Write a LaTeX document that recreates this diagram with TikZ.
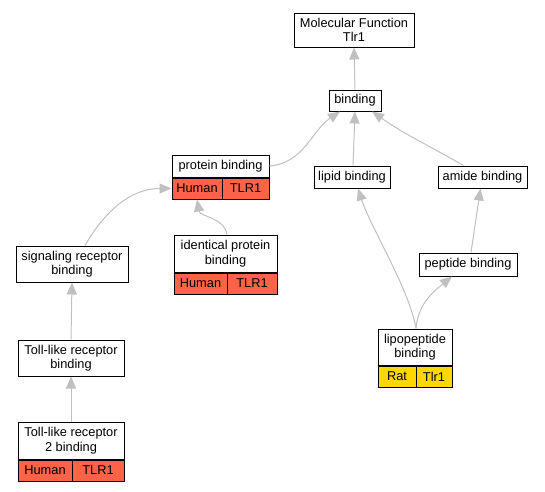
\documentclass[tikz,border=0pt]{standalone}
\usepackage{fontspec}
\setmainfont{Liberation Sans}
\usepackage{tikz}
\usetikzlibrary{arrows.meta, positioning}

\definecolor{human}{HTML}{FF6347}
\definecolor{rat}{HTML}{FFD700}
\definecolor{edgegray}{HTML}{C0C0C0}

\begin{document}
\begin{tikzpicture}[
    x=1pt, y=-1pt,
    term/.style={rectangle, draw, line width=1pt, fill=white, align=center, inner sep=1pt, font=\fontsize{12.8}{14.5}\selectfont},
    cell/.style={rectangle, draw, line width=1pt, inner sep=1pt, minimum height=21, font=\fontsize{12.8}{14.5}\selectfont},
    isa/.style={-{Triangle[length=12pt, width=10pt]}, draw=edgegray, line width=1pt},
]
\useasboundingbox (0,0) rectangle (545,491);

% GO terms
\node[term, minimum width=120, minimum height=34] (mf) at (354,30) {Molecular Function\\Tlr1};
\node[term, minimum width=52, minimum height=21] (bind) at (355,100.5) {binding};
\node[term, minimum width=97, minimum height=22] (pb) at (220.5,166) {protein binding};
\node[term, minimum width=76, minimum height=22] (lipid) at (352,177) {lipid binding};
\node[term, minimum width=89, minimum height=22] (amide) at (482.5,177) {amide binding};
\node[term, minimum width=112, minimum height=36] (sig) at (72,264) {signaling receptor\\binding};
\node[term, minimum width=103, minimum height=37] (iden) at (225.5,253.5) {identical protein\\binding};
\node[term, minimum width=106, minimum height=36] (toll) at (71,358) {Toll-like receptor\\binding};
\node[term, minimum width=106, minimum height=37] (tlr2) at (71,440.5) {Toll-like receptor\\2 binding};
\node[term, minimum width=98, minimum height=23] (pep) at (468,264.5) {peptide binding};
\node[term, minimum width=74, minimum height=36] (lipo) at (415,347) {lipopeptide\\binding};

% species / gene rows
\node[cell, fill=human, minimum width=50, anchor=north west] (pbh) at (pb.south west) {Human};
\node[cell, fill=human, minimum width=47, anchor=north east] (pbg) at (pb.south east) {TLR1};
\node[cell, fill=human, minimum width=53, anchor=north west] (idenh) at (iden.south west) {Human};
\node[cell, fill=human, minimum width=50, anchor=north east] (ideng) at (iden.south east) {TLR1};
\node[cell, fill=human, minimum width=54, anchor=north west] (tlr2h) at (tlr2.south west) {Human};
\node[cell, fill=human, minimum width=52, anchor=north east] (tlr2g) at (tlr2.south east) {TLR1};
\node[cell, fill=rat, minimum width=38, anchor=north west] (lipor) at (lipo.south west) {Rat};
\node[cell, fill=rat, minimum width=36, anchor=north east] (lipog) at (lipo.south east) {Tlr1};

% is_a links
\draw[isa] (bind.north) -- (mf.south);
\draw[isa] (pb.east) to[out=5, in=214] ([xshift=-15]bind.south);
\draw[isa] ([xshift=1]lipid.north) -- (bind.south);
\draw[isa] ([xshift=-19]amide.north) to[out=150, in=-35] ([xshift=17]bind.south);
\draw[isa] ([xshift=13]sig.north) to[out=60, in=180] (pbh.west);
\draw[isa] ([xshift=1.5]iden.north) to[out=100, in=-80] (pbh.south);
\draw[isa] (toll.north) -- (sig.south);
\draw[isa] (tlr2.north) -- (toll.south);
\draw[isa] ([xshift=1]lipo.north) to[out=100, in=-72, looseness=0.7] ([xshift=6]lipid.south);
\draw[isa] ([xshift=1]lipo.north) to[out=85, in=219] ([xshift=-16]pep.south);
\draw[isa] ([xshift=3]pep.north) -- ([xshift=-2]amide.south);

\end{tikzpicture}
\end{document}
